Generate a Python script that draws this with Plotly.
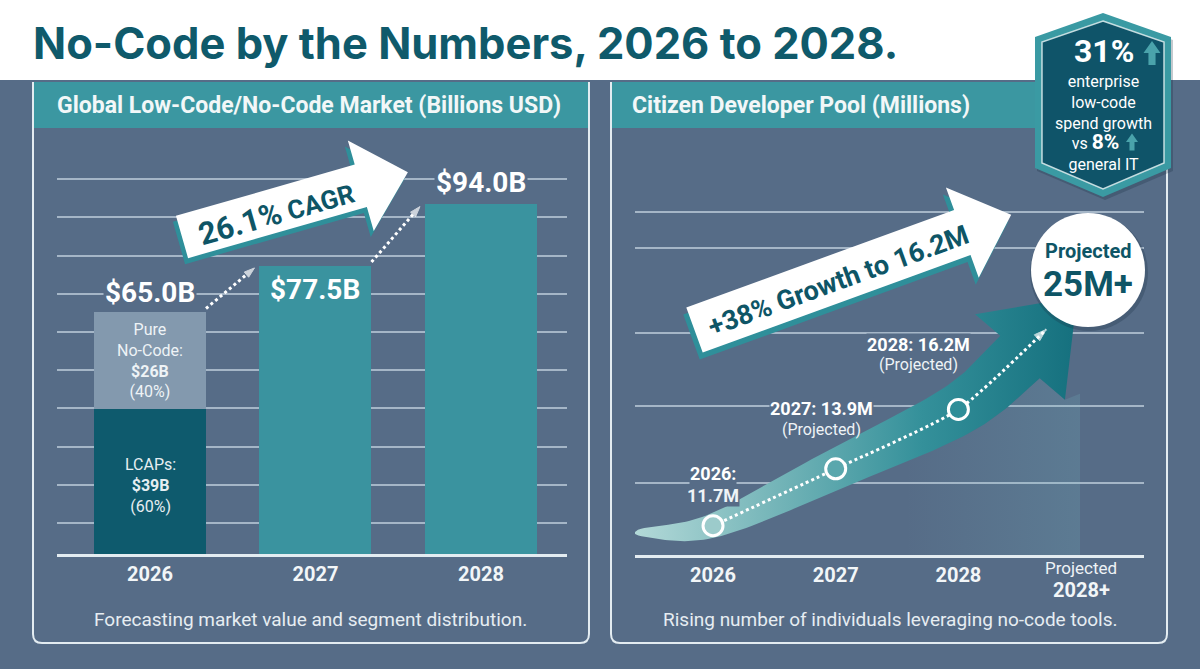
import numpy as np
import plotly.graph_objects as go

W, H = 1200, 669

# ---------------- data ----------------
market_years = ["2026", "2027", "2028"]
market_totals = [65.0, 77.5, 94.0]
lcaps_2026 = [39.0]
pure_nocode_2026 = [26.0]
segment_names = ["LCAPs", "Pure No-Code"]
segment_shares = [60, 40]
market_cagr = "26.1%"

pool_years = ["2026", "2027", "2028"]
pool_values = [11.7, 13.9, 16.2]
pool_status = ["", "(Projected)", "(Projected)"]
pool_axis_labels = ["2026", "2027", "2028", "Projected", "2028+"]
pool_growth_text = "+38% Growth to 16.2M"
pool_projection = "25M+"

badge_enterprise_growth = "31%"
badge_general_it_growth = "8%"

# ---------------- style ----------------
FONT = "Roboto"
TITLE_FONT = "Inter"
BG = "#566c87"
TEAL_HDR = "#3b97a1"
BAR_TEAL = "#3a939f"
DARK_TEAL = "#0e5a6d"
SEG_LIGHT = "#8399ae"
TITLE_C = "#0f5a6b"
TEXT_DARK = "#0e5566"
GRID = "rgba(200,214,226,0.70)"
BORDER = "#e3ecf1"
WHITE = "#ffffff"
LIGHT_TXT = "#e6edf2"


def X(px):
    return px / W


def Y(py):
    return 1 - py / H


def path(pts, close=True):
    s = "M " + " L ".join(f"{X(x):.5f},{Y(y):.5f}" for x, y in pts)
    return s + (" Z" if close else "")


# ---------------- axes geometry ----------------
L_DOM_X = (57, 567)
L_DOM_Y = (554, 150)
L_XR = (-0.562, 2.520)
L_YR = (0, 108.6)
BW = 0.677

R_DOM_X = (635, 1144)
R_DOM_Y = (555, 140)
R_XR = (-0.636, 3.513)
R_YR = (10.565, 26.632)


def r_px(xd, v):
    px = R_DOM_X[0] + (xd - R_XR[0]) / (R_XR[1] - R_XR[0]) * (R_DOM_X[1] - R_DOM_X[0])
    py = R_DOM_Y[0] - (v - R_YR[0]) / (R_YR[1] - R_YR[0]) * (R_DOM_Y[0] - R_DOM_Y[1])
    return np.array([px, py])


def r_data(p):
    xd = R_XR[0] + (p[0] - R_DOM_X[0]) / (R_DOM_X[1] - R_DOM_X[0]) * (R_XR[1] - R_XR[0])
    v = R_YR[0] + (R_DOM_Y[0] - p[1]) / (R_DOM_Y[0] - R_DOM_Y[1]) * (R_YR[1] - R_YR[0])
    return xd, v


fig = go.Figure()

# ---------------- left chart: bars ----------------
fig.add_trace(go.Bar(x=[0], y=lcaps_2026, width=BW, marker=dict(color=DARK_TEAL, line_width=0),
                     xaxis="x", yaxis="y", hoverinfo="skip"))
fig.add_trace(go.Bar(x=[0], y=pure_nocode_2026, width=BW, marker=dict(color=SEG_LIGHT, line_width=0),
                     xaxis="x", yaxis="y", hoverinfo="skip"))
fig.add_trace(go.Bar(x=[1, 2], y=market_totals[1:], width=BW, marker=dict(color=BAR_TEAL, line_width=0),
                     xaxis="x", yaxis="y", hoverinfo="skip"))

# dotted connectors between bar tops
for i in range(len(market_totals) - 1):
    fig.add_trace(go.Scatter(
        x=[i + BW / 2, i + 1 - BW / 2 - 0.03],
        y=[market_totals[i] + 1.0, market_totals[i + 1] - 0.6],
        mode="lines+markers", xaxis="x", yaxis="y", hoverinfo="skip",
        line=dict(color=WHITE, width=3, dash="dot"),
        marker=dict(symbol="arrow", angleref="previous", size=[0, 11], color=WHITE),
    ))

# ---------------- right chart: ribbon arrow ----------------
P = [r_px(i, v) for i, v in enumerate(pool_values)]
tail = np.array([635.0, 533.0])
head_base = np.array([1020.0, 357.0])
tip = np.array([1077.0, 297.0])
d = (tip - head_base) / np.linalg.norm(tip - head_base)
nd = np.array([-d[1], d[0]])

ctrl = [tail - (P[0] - tail), tail, P[0], P[1], P[2], head_base, head_base + d * 40]


def catmull(pts, n=24):
    out = []
    for i in range(1, len(pts) - 2):
        p0, p1, p2, p3 = pts[i - 1], pts[i], pts[i + 1], pts[i + 2]
        for t in np.linspace(0, 1, n, endpoint=False):
            t2, t3 = t * t, t * t * t
            out.append(0.5 * ((2 * p1) + (-p0 + p2) * t + (2 * p0 - 5 * p1 + 4 * p2 - p3) * t2
                              + (-p0 + 3 * p1 - 3 * p2 + p3) * t3))
    out.append(pts[-2])
    return np.array(out)


C = catmull(ctrl)
T = np.gradient(C, axis=0)
T = T / np.linalg.norm(T, axis=1)[:, None]
N = np.stack([-T[:, 1], T[:, 0]], axis=1)
seg = np.linalg.norm(np.diff(C, axis=0), axis=1)
s = np.concatenate([[0], np.cumsum(seg)])
s = s / s[-1]
w = 1 + 28 * s ** 0.55
lower = C + N * w[:, None]
upper = C - N * w[:, None]
poly = list(lower) + [head_base + nd * 62, tip, head_base - nd * 62] + list(upper[::-1])
poly_d = [r_data(p) for p in poly]

# faint area below the ribbon
barb_lo = head_base + nd * 62
area_pts = [p for p in lower if p[0] >= 900] + [barb_lo, np.array([1080.0, barb_lo[1] - 6]),
                                                   np.array([1080.0, 555.0])]
area_pts.append(np.array([area_pts[0][0], 555.0]))
area_d = [r_data(p) for p in area_pts]
fig.add_trace(go.Scatter(
    x=[p[0] for p in area_d], y=[p[1] for p in area_d], xaxis="x2", yaxis="y2",
    mode="lines", fill="toself", line=dict(width=0), hoverinfo="skip",
    fillgradient=dict(type="horizontal",
                      colorscale=[[0, "rgba(120,190,200,0.0)"], [1, "rgba(120,190,200,0.18)"]]),
))
fig.add_trace(go.Scatter(
    x=[p[0] for p in poly_d], y=[p[1] for p in poly_d], xaxis="x2", yaxis="y2",
    mode="lines", fill="toself", line=dict(width=0), hoverinfo="skip",
    fillgradient=dict(type="horizontal",
                      colorscale=[[0, "#b3d9d8"], [0.3, "#78b7ba"], [0.65, "#34909a"], [1, "#15707e"]]),
))

# dotted trend line through data points
end_pt = r_data(head_base + d * 38)
fig.add_trace(go.Scatter(
    x=[0, 1, 2, end_pt[0]], y=pool_values + [end_pt[1]], xaxis="x2", yaxis="y2",
    mode="lines+markers", hoverinfo="skip",
    line=dict(color=WHITE, width=3, dash="dot", shape="spline", smoothing=0.6),
    marker=dict(symbol="arrow", angleref="previous", size=[0, 0, 0, 13], color=WHITE),
))
fig.add_trace(go.Scatter(
    x=[0, 1, 2], y=pool_values, xaxis="x2", yaxis="y2", mode="markers", hoverinfo="skip",
    marker=dict(size=20, color=["#9ccbcb", "#5aa7ad", "#2f8e98"], line=dict(color=WHITE, width=3)),
))

# ---------------- shapes ----------------
shapes = []
shapes.append(dict(type="rect", xref="paper", yref="paper", x0=0, x1=1, y0=Y(80), y1=1,
                   fillcolor=WHITE, line_width=0, layer="below"))
for (x0, x1) in [(33, 589), (611, 1167)]:
    shapes.append(dict(type="rect", xref="paper", yref="paper", x0=X(x0), x1=X(x1), y0=Y(128), y1=Y(82),
                       fillcolor=TEAL_HDR, line_width=0, layer="below"))
    r = 9
    pth = (f"M {X(x0):.5f},{Y(82):.5f} L {X(x0):.5f},{Y(643 - r):.5f} "
           f"Q {X(x0):.5f},{Y(643):.5f} {X(x0 + r):.5f},{Y(643):.5f} "
           f"L {X(x1 - r):.5f},{Y(643):.5f} Q {X(x1):.5f},{Y(643):.5f} {X(x1):.5f},{Y(643 - r):.5f} "
           f"L {X(x1):.5f},{Y(82):.5f}")
    shapes.append(dict(type="path", xref="paper", yref="paper", path=pth,
                       line=dict(color=BORDER, width=2), layer="below"))


def arrow_poly(c0, ang_deg, half_w, body_len, head_half, total_len):
    a = np.radians(ang_deg)
    dd = np.array([np.cos(a), -np.sin(a)])
    nn = np.array([np.sin(a), np.cos(a)])
    c0 = np.array(c0, dtype=float)
    return [c0 - half_w * nn, c0 + body_len * dd - half_w * nn, c0 + body_len * dd - head_half * nn,
            c0 + total_len * dd, c0 + body_len * dd + head_half * nn, c0 + body_len * dd + half_w * nn,
            c0 + half_w * nn]


for c0, ang, hw, bl, hh, tl, off in [((182, 237), 16, 22, 186, 47, 235, (-3, 6)),
                                       ((694.5, 330), 20, 24, 285, 48, 337, (-3, 7))]:
    pts = arrow_poly(c0, ang, hw, bl, hh, tl)
    sh = [(p[0] + off[0], p[1] + off[1]) for p in pts]
    shapes.append(dict(type="path", xref="paper", yref="paper", path=path(sh),
                       fillcolor="#2f8f9a", line_width=0, layer="above"))
    shapes.append(dict(type="path", xref="paper", yref="paper", path=path(pts),
                       fillcolor=WHITE, line_width=0, layer="above"))

# projected circle
cx, cy, rr = 1088, 270, 57
shapes.append(dict(type="circle", xref="paper", yref="paper", x0=X(cx - rr - 1), x1=X(cx + rr + 3),
                   y0=Y(cy + rr + 4), y1=Y(cy - rr + 1), fillcolor="rgba(25,45,65,0.25)", line_width=0,
                   layer="above"))
shapes.append(dict(type="circle", xref="paper", yref="paper", x0=X(cx - rr), x1=X(cx + rr),
                   y0=Y(cy + rr), y1=Y(cy - rr), fillcolor=WHITE, line_width=0, layer="above"))

# badge hexagon
hex_out = [(1103, 13), (1171, 37), (1171, 168), (1103, 197), (1035, 168), (1035, 37)]
hex_in = [(1103, 21), (1164, 42), (1164, 163), (1103, 189), (1042, 163), (1042, 42)]
shapes.append(dict(type="path", xref="paper", yref="paper",
                   path=path([(x + 2, y + 3) for x, y in hex_out]),
                   fillcolor="rgba(20,40,60,0.25)", line_width=0, layer="above"))
shapes.append(dict(type="path", xref="paper", yref="paper", path=path(hex_out),
                   fillcolor="#3a9aa3", line_width=0, layer="above"))
shapes.append(dict(type="path", xref="paper", yref="paper", path=path(hex_in),
                   fillcolor="#0f5469", line=dict(color="rgba(225,238,240,0.85)", width=1.5), layer="above"))


def up_arrow(cx, cy, h, wd):
    sw = wd * 0.42
    hh = h * 0.5
    top = cy - h / 2
    return [(cx, top), (cx + wd / 2, top + hh), (cx + sw / 2, top + hh), (cx + sw / 2, cy + h / 2),
            (cx - sw / 2, cy + h / 2), (cx - sw / 2, top + hh), (cx - wd / 2, top + hh)]


for a in [up_arrow(1152, 53, 24, 17), up_arrow(1132, 142, 17, 12)]:
    shapes.append(dict(type="path", xref="paper", yref="paper", path=path(a),
                       fillcolor="#4aa3ab", line_width=0, layer="above"))

# ---------------- annotations ----------------
ann = []


def txt(text, x, y, size, color=WHITE, xanchor="center", yanchor="middle", angle=0, bg=None, family=FONT):
    d_ = dict(text=text, x=X(x), y=Y(y), xref="paper", yref="paper", showarrow=False,
              xanchor=xanchor, yanchor=yanchor, textangle=angle,
              font=dict(family=family, size=size, color=color))
    if bg:
        d_.update(bgcolor=bg, borderpad=2)
    ann.append(d_)


txt("<b>No-Code by the Numbers, 2026 to 2028.</b>", 31, 43, 43.5, TITLE_C, xanchor="left", family=TITLE_FONT)
txt("<b>Global Low-Code/No-Code Market (Billions USD)</b>", 309, 106, 23, "#f2f7f8")
txt("<b>Citizen Developer Pool (Millions)</b>", 630, 106, 23, "#f2f7f8", xanchor="left")
txt("Forecasting market value and segment distribution.", 310, 619, 19, LIGHT_TXT)
txt("Rising number of individuals leveraging no-code tools.", 890, 619, 19, LIGHT_TXT)

# badge
txt(f"<b>{badge_enterprise_growth}</b>", 1104, 51, 32, WHITE)
nb = "\u00a0"
txt("enterprise<br>low-code<br>spend growth<br>"
    f"vs <b><span style='font-size:21px'>{badge_general_it_growth}</span></b>{nb * 4}<br>general IT",
    1103, 123, 16, WHITE)

# rotated arrow texts
txt(f"<b><span style='font-size:31px'>{market_cagr}</span> CAGR</b>", 276, 213, 26, TEXT_DARK, angle=-16)
txt(f"<b>{pool_growth_text}</b>", 838, 281, 27, TEXT_DARK, angle=-20)

# projected circle
txt("<b>Projected</b>", 1088, 251, 20, TEXT_DARK)
txt(f"<b>{pool_projection}</b>", 1088, 284, 35, TEXT_DARK)

# right axis last tick label
txt(pool_axis_labels[3], 1081, 568, 17, "#eef3f6")
txt(f"<b>{pool_axis_labels[4]}</b>", 1081, 590, 20, "#f2f6f8")

# left chart value labels (data anchored)
ann.append(dict(text=f"<b>${market_totals[0]:.1f}B</b>", x=0, y=market_totals[0], xref="x", yref="y",
                showarrow=False, yshift=20, font=dict(family=FONT, size=28, color=WHITE),
                bgcolor=BG, borderpad=1))
ann.append(dict(text=f"<b>${market_totals[1]:.1f}B</b>", x=1, y=market_totals[1], xref="x", yref="y",
                showarrow=False, yshift=-24, font=dict(family=FONT, size=28, color=WHITE)))
ann.append(dict(text=f"<b>${market_totals[2]:.1f}B</b>", x=2, y=market_totals[2], xref="x", yref="y",
                showarrow=False, yshift=22, font=dict(family=FONT, size=28, color=WHITE),
                bgcolor=BG, borderpad=1))

# segment labels
pure_mid = lcaps_2026[0] + pure_nocode_2026[0] / 2
pure_words = segment_names[1].split(" ")
pure_text = "<br>".join([pure_words[0], pure_words[1] + ":", f"<b>${pure_nocode_2026[0]:.0f}B</b>",
                         f"({segment_shares[1]}%)"])
ann.append(dict(text=pure_text, x=0, y=pure_mid, xref="x", yref="y", showarrow=False, yshift=0,
                font=dict(family=FONT, size=16, color="#eef3f6")))
lcap_mid = lcaps_2026[0] / 2
lcap_text = "<br>".join([segment_names[0] + ":", f"<b>${lcaps_2026[0]:.0f}B</b>", f"({segment_shares[0]}%)"])
ann.append(dict(text=lcap_text, x=0, y=lcap_mid, xref="x", yref="y", showarrow=False, yshift=-4,
                font=dict(family=FONT, size=16, color="#e6eef2")))

# right chart point labels: first line carries a background (breaks gridline), second line plain
lbl_offsets = [(0, 52, 30), (-14, 60, 39), (-40, 65, 45)]
for i, (yr, v, st) in enumerate(zip(pool_years, pool_values, pool_status)):
    xs, y1s, y2s = lbl_offsets[i]
    if st:
        l1, l2, s2 = f"<b>{yr}: {v:.1f}M</b>", st, 16
    else:
        l1, l2, s2 = f"<b>{yr}:</b>", f"<b>{v:.1f}M</b>", 18
    ann.append(dict(text=l1, x=i, y=v, xref="x2", yref="y2", showarrow=False, xshift=xs, yshift=y1s,
                    font=dict(family=FONT, size=18, color=WHITE), bgcolor=BG, borderpad=0))
    ann.append(dict(text=l2, x=i, y=v, xref="x2", yref="y2", showarrow=False, xshift=xs, yshift=y2s,
                    font=dict(family=FONT, size=s2, color="#eef3f6"),
                    bgcolor=BG if not st else None, borderpad=0))

# ---------------- layout ----------------
right_grid = [13.35, 16.33, 19.16, 22.45, 23.84]
tickfont = dict(family=FONT, size=20, color="#f2f6f8")
right_ticktext = [f"<b>{t}</b>" for t in pool_axis_labels[:3]] + [""]

fig.update_layout(
    width=W, height=H, margin=dict(l=0, r=0, t=0, b=0),
    paper_bgcolor=BG, plot_bgcolor="rgba(0,0,0,0)",
    showlegend=False, barmode="stack", bargap=0,
    shapes=shapes, annotations=ann,
    xaxis=dict(domain=[X(L_DOM_X[0]), X(L_DOM_X[1])], range=list(L_XR), anchor="y",
               tickmode="array", tickvals=[0, 1, 2], ticktext=[f"<b>{y}</b>" for y in market_years],
               tickfont=tickfont, showgrid=False, zeroline=False, showline=True,
               linecolor=BORDER, linewidth=2.5, ticks="", fixedrange=True),
    yaxis=dict(domain=[Y(L_DOM_Y[0]), Y(L_DOM_Y[1])], range=list(L_YR), anchor="x",
               tickmode="linear", tick0=8.33, dtick=10.27, showticklabels=False,
               showgrid=True, gridcolor=GRID, gridwidth=1.5, zeroline=False, showline=False),
    xaxis2=dict(domain=[X(R_DOM_X[0]), X(R_DOM_X[1])], range=list(R_XR), anchor="y2",
                tickmode="array", tickvals=[0, 1, 2, 3], ticktext=right_ticktext,
                tickfont=tickfont, showgrid=False, zeroline=False, showline=True,
                linecolor=BORDER, linewidth=2.5, ticks=""),
    yaxis2=dict(domain=[Y(R_DOM_Y[0]), Y(R_DOM_Y[1])], range=list(R_YR), anchor="x2",
                tickmode="array", tickvals=right_grid, showticklabels=False,
                showgrid=True, gridcolor=GRID, gridwidth=1.5, zeroline=False, showline=False),
)

fig.write_html("out.html")
